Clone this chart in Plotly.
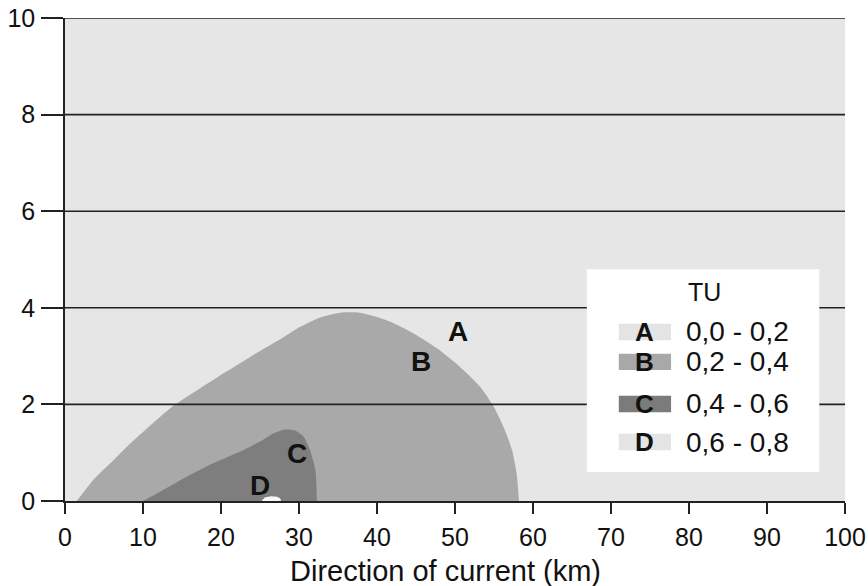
import plotly.graph_objects as go

# ---- data ----
x_ticks = [0, 10, 20, 30, 40, 50, 60, 70, 80, 90, 100]
y_ticks = [0, 2, 4, 6, 8, 10]

# zone B outer boundary (TU 0.2-0.4)
b_x = [1.5, 3.6, 5.8, 7.9, 10.5, 13.9, 17.3, 20.7, 24.1, 27.6, 30.1, 32.7, 35.3, 37.8,
       39.1, 41.7, 44.7, 47.7, 50.6, 53.2, 54.9, 56.2, 57.3, 57.9, 58.2]
b_y = [0.0, 0.43, 0.78, 1.12, 1.50, 1.97, 2.33, 2.68, 3.02, 3.35, 3.60, 3.80, 3.90, 3.90,
       3.85, 3.71, 3.47, 3.16, 2.78, 2.37, 1.97, 1.54, 1.06, 0.57, 0.0]

# zone C boundary (TU 0.4-0.6)
c_x = [10.0, 12.2, 15.6, 19.0, 22.4, 25.0, 26.7, 28.2, 29.5, 30.6, 31.4, 32.1, 32.3]
c_y = [0.0, 0.19, 0.50, 0.78, 1.02, 1.23, 1.40, 1.48, 1.46, 1.33, 1.06, 0.64, 0.0]

# zone D boundary (TU 0.6-0.8)
d_x = [25.2, 25.6, 26.4, 27.2, 27.6, 27.7]
d_y = [0.0, 0.07, 0.10, 0.09, 0.05, 0.0]

zone_letters = ["A", "B", "C", "D"]
zone_ranges = ["0,0 - 0,2", "0,2 - 0,4", "0,4 - 0,6", "0,6 - 0,8"]
zone_colors = ["#e4e4e4", "#a8a8a8", "#7b7b7b", "#e4e4e4"]
label_x = [50.4, 45.7, 29.7, 25.0]
label_y = [3.50, 2.88, 0.99, 0.33]
x_title = "Direction of current (km)"

bg_color = "#e6e6e6"
FONT = "Liberation Sans, Arial, Helvetica, sans-serif"

fig = go.Figure()

fig.add_trace(go.Scatter(x=b_x, y=b_y, mode="lines", fill="toself",
                         fillcolor="#a9a9a9",
                         line=dict(width=0, color="#a9a9a9", shape="spline", smoothing=0.6),
                         hoverinfo="skip", showlegend=False))
fig.add_trace(go.Scatter(x=c_x, y=c_y, mode="lines", fill="toself",
                         fillcolor="#7e7e7e",
                         line=dict(width=0, color="#7e7e7e", shape="spline", smoothing=0.5),
                         hoverinfo="skip", showlegend=False))
fig.add_trace(go.Scatter(x=d_x, y=d_y, mode="lines", fill="toself",
                         fillcolor="#f8f8f8", line=dict(width=0, color="#f8f8f8"),
                         hoverinfo="skip", showlegend=False))

shapes = []
# horizontal grid lines drawn above the filled zones
for v in y_ticks[1:]:
    shapes.append(dict(type="line", xref="paper", yref="y", x0=0, x1=1, y0=v, y1=v,
                       line=dict(color="#222222", width=1.6), layer="above"))

# legend box
lg_x0, lg_x1, lg_y0, lg_y1 = 66.9, 96.7, 0.60, 4.80
shapes.append(dict(type="rect", xref="x", yref="y", x0=lg_x0, x1=lg_x1, y0=lg_y0, y1=lg_y1,
                   fillcolor="white", line=dict(width=0), layer="above"))

row_y = [3.50, 2.88, 2.01, 1.22]
sw_x0, sw_x1, sw_h = 71.0, 77.7, 0.34
annotations = []
annotations.append(dict(x=82.0, y=4.33, xref="x", yref="y", text="TU",
                        showarrow=False, font=dict(family=FONT, size=25, color="#111111")))
for letter, rng, col, ry in zip(zone_letters, zone_ranges, zone_colors, row_y):
    shapes.append(dict(type="rect", xref="x", yref="y", x0=sw_x0, x1=sw_x1,
                       y0=ry - sw_h / 2, y1=ry + sw_h / 2, fillcolor=col,
                       line=dict(width=0), layer="above"))
    annotations.append(dict(x=(sw_x0 + sw_x1) / 2, y=ry, xref="x", yref="y",
                            text="<b>" + letter + "</b>", showarrow=False,
                            font=dict(family=FONT, size=26, color="#111111")))
    annotations.append(dict(x=79.4, y=ry, xref="x", yref="y", text=rng, xanchor="left",
                            showarrow=False, font=dict(family=FONT, size=28, color="#111111")))

for letter, lx, ly in zip(zone_letters, label_x, label_y):
    annotations.append(dict(x=lx, y=ly, xref="x", yref="y", text="<b>" + letter + "</b>",
                            showarrow=False, font=dict(family=FONT, size=28, color="#111111")))

# x-axis title (slightly left of the axis centre, as in the original)
annotations.append(dict(x=0.488, y=0, xref="paper", yref="paper", text=x_title,
                        showarrow=False, yanchor="middle", yshift=-70,
                        font=dict(family=FONT, size=29, color="#111111")))

fig.update_layout(
    width=868, height=586,
    margin=dict(l=65, r=23, t=18, b=85, autoexpand=False),
    paper_bgcolor="white", plot_bgcolor=bg_color,
    font=dict(family=FONT, color="#111111"),
    shapes=shapes, annotations=annotations,
    showlegend=False,
)
fig.update_xaxes(range=[0, 100], tickvals=x_ticks, ticktext=[str(v) for v in x_ticks],
                 ticks="outside", ticklen=11, tickwidth=1.6, tickcolor="#222222",
                 showline=True, linecolor="#222222", linewidth=1.6, showgrid=False,
                 zeroline=False, tickfont=dict(size=25, family=FONT, color="#111111"),
                 ticklabelstandoff=2, automargin=False, ticklabeloverflow="allow",
                 layer="above traces", fixedrange=True)
fig.update_yaxes(range=[0, 10], tickvals=y_ticks, ticktext=[str(v) for v in y_ticks],
                 ticks="outside", ticklen=22, tickwidth=1.6, tickcolor="#222222",
                 showline=True, linecolor="#222222", linewidth=1.6, showgrid=False,
                 zeroline=False, tickfont=dict(size=25, family=FONT, color="#111111"),
                 ticklabelstandoff=1, automargin=False, ticklabeloverflow="allow",
                 layer="above traces", fixedrange=True)

fig.write_html("out.html", config={"displayModeBar": False},
               post_script="document.body.style.margin='0';document.body.style.padding='0';")
